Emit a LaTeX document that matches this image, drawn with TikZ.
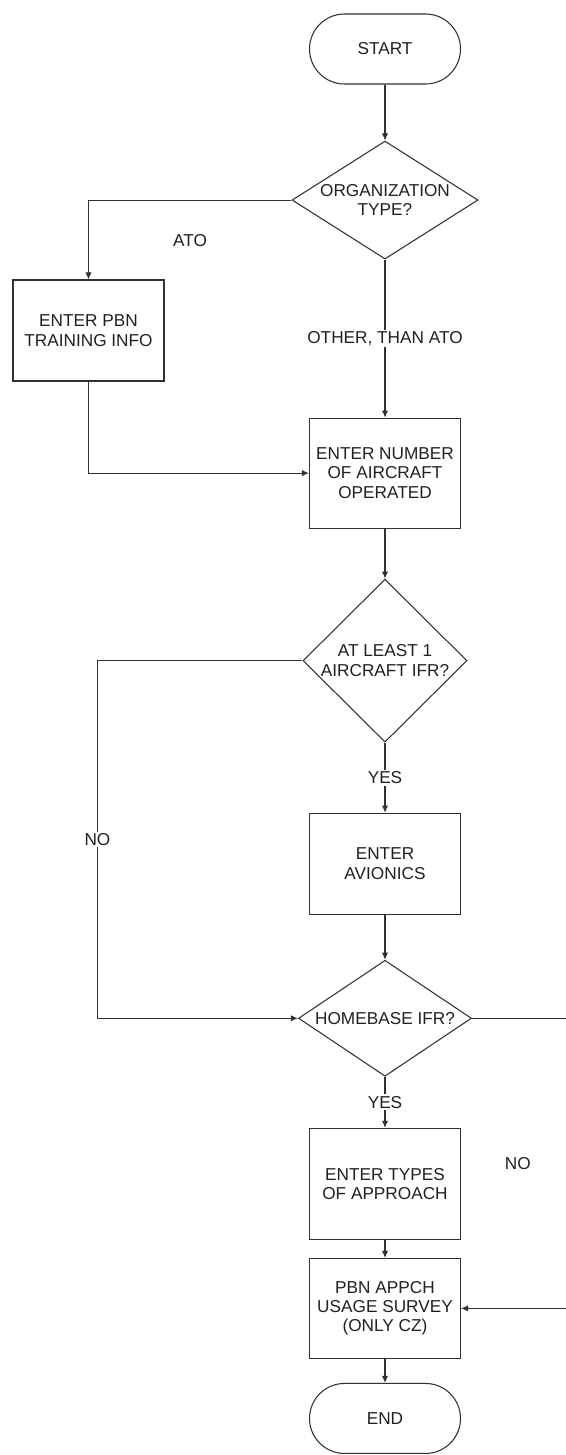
\documentclass[tikz,border=0pt]{standalone}
\usepackage{fontspec}
\setmainfont{Liberation Sans}
\usepackage{tikz}
\usetikzlibrary{arrows.meta,positioning,shapes.geometric}
\definecolor{FlowLine}{HTML}{303030}
\definecolor{FlowText}{HTML}{202020}

\begin{document}
\begin{tikzpicture}[
    font=\fontsize{9.8}{11}\selectfont,
    box/.style={draw=FlowLine,line width=0.6pt,text=FlowText,align=center,
                minimum width=3.02cm,inner sep=2pt},
    term/.style={box,rounded corners=0.7cm,minimum height=1.4cm},
    decision/.style={diamond,draw=FlowLine,line width=0.6pt,inner sep=0pt},
    dtext/.style={text=FlowText,align=center,inner sep=0pt},
    arrow/.style={-{Latex[length=4pt,width=3.6pt]},FlowLine,line width=0.6pt},
    lbl/.style={text=FlowText,inner sep=1pt}]

    \useasboundingbox (0,0) rectangle (11.32,-29.1);

    \node[term] (start) at (7.7,-0.98) {START};
    \node[decision,minimum width=3.72cm,minimum height=2.36cm,
          label={[dtext]center:ORGANIZATION\\TYPE?},
          below=1.12cm of start] (org) {};
    \node[box,minimum width=3.02cm,minimum height=2.02cm] (pbn)
      at (1.77,-6.61) {ENTER PBN\\TRAINING INFO};
    \node[box,minimum height=2.2cm,below=3.16cm of org] (nac)
      {ENTER NUMBER\\OF AIRCRAFT\\OPERATED};
    \node[decision,minimum width=3.28cm,minimum height=3.26cm,
          label={[dtext]center:AT LEAST 1\\AIRCRAFT IFR?},
          below=1.0cm of nac] (ifr) {};
    \node[box,minimum height=2.02cm,below=1.4cm of ifr] (avio)
      {ENTER\\AVIONICS};
    \node[decision,minimum width=3.46cm,minimum height=2.32cm,
          label={[dtext]center:HOMEBASE IFR?},
          below=0.9cm of avio] (home) {};
    \node[box,minimum height=2.22cm,below=1.02cm of home] (types)
      {ENTER TYPES\\OF APPROACH};
    \node[box,minimum height=2cm,below=0.36cm of types] (survey)
      {PBN APPCH\\USAGE SURVEY\\(ONLY CZ)};
    \node[term,below=0.48cm of survey] (end) {END};

    \draw[arrow] (start) -- (org);
    \draw[arrow] (org.west) -| node[pos=0.25,below=0.65cm,lbl]{ATO} (pbn.north);
    \draw[arrow] (org) -- node[lbl,fill=white]{OTHER, THAN ATO} (nac);
    \draw[arrow] (pbn.south) |- (nac.west);
    \draw[arrow] (nac) -- (ifr);
    \draw[arrow] (ifr) -- node[lbl,fill=white]{YES} (avio);
    \draw[arrow] (ifr.west) -- ++(-4.1,0)
      |- node[pos=0.25,lbl,fill=white]{NO} (home.west);
    \draw[arrow] (avio) -- (home);
    \draw[arrow] (home) -- node[lbl,fill=white]{YES} (types);
    \draw[arrow] (home.east) -- ++(1.92,0)
      |- node[pos=0.25,left=0.7cm,lbl]{NO} (survey.east);
    \draw[arrow] (types) -- (survey);
    \draw[arrow] (survey) -- (end);
  \end{tikzpicture}
\end{document}
